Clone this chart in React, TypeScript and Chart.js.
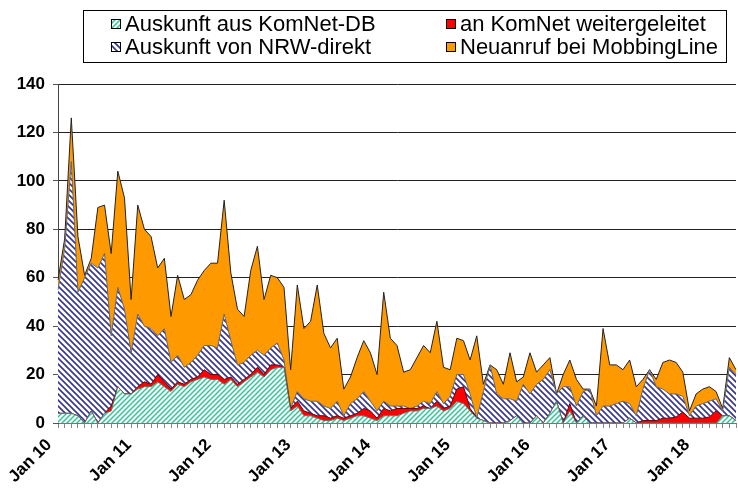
import React, { useEffect, useRef } from 'react';
import { Chart, registerables } from 'chart.js';

Chart.register(...registerables);

// ---- data ----
const monthNames = ['Jan', 'Feb', 'Mär', 'Apr', 'Mai', 'Jun', 'Jul', 'Aug', 'Sep', 'Okt', 'Nov', 'Dez'];
const years = ['10', '11', '12', '13', '14', '15', '16', '17', '18'];
const monthCount = 103;
const categories = years.flatMap((y) => monthNames.map((m) => `${m} ${y}`)).slice(0, monthCount);

const seriesNames = [
  'Auskunft aus KomNet-DB',
  'an KomNet weitergeleitet',
  'Auskunft von NRW-direkt',
  'Neuanruf bei MobbingLine',
];

const komnetDB = [
  4, 4, 4, 3, 0, 5, 0, 4, 5, 15,
  12, 12, 14, 15, 15, 17, 15, 13, 16, 15,
  17, 18, 19, 18, 18, 16, 18, 15, 17, 19,
  21, 19, 22, 23, 23, 5, 7, 3, 3, 2,
  1, 1, 2, 1, 2, 3, 3, 2, 1, 3,
  3, 3, 4, 5, 5, 6, 6, 7, 5, 6,
  9, 8, 5, 2, 1, 0, 0, 0, 1, 3,
  0, 0, 3, 0, 4, 9, 0, 5, 0, 3,
  0, 0, 0, 0, 0, 0, 2, 0, 0, 0,
  0, 0, 0, 0, 0, 0, 0, 0, 0, 0,
  3, 3, 1,
];

const weitergeleitet = [
  0, 0, 0, 0, 0, 0, 0, 0, 2, 0,
  0, 0, 1, 2, 1, 3, 2, 1, 1, 1,
  1, 1, 3, 2, 2, 2, 1, 1, 1, 1,
  2, 1, 2, 1, 0, 1, 2, 2, 1, 1,
  2, 1, 1, 1, 1, 1, 3, 3, 1, 3,
  2, 3, 2, 1, 1, 1, 0, 2, 1, 1,
  5, 7, 1, 0, 0, 0, 0, 0, 0, 0,
  0, 0, 0, 0, 0, 0, 0, 3, 0, 0,
  0, 0, 0, 0, 0, 0, 0, 0, 1, 1,
  1, 2, 2, 2.5, 4.5, 2, 2, 2, 2.5, 5,
  0, 0, 0,
];

const nrwDirekt = [
  51, 68, 104, 51, 60, 61, 64, 66, 29, 41,
  35, 17, 30, 23, 23, 16, 22, 11, 11, 7,
  7, 9, 10, 12, 11, 27, 15, 8, 7, 8,
  7, 8, 7, 9, 3, 0, 4, 5, 5, 6,
  4, 4, 6, 1, 5, 6, 7, 4, 3, 3,
  2, 1, 1, 0, 1, 2, 2, 4, 2, 4,
  6, 5, 6, 0, 12, 24, 12, 10, 9, 6,
  16, 12, 13, 18, 18, 3, 15, 7, 7, 10,
  14, 3, 7, 7, 8, 9, 6, 3, 13, 21,
  14, 12, 10, 9.5, 6.5, 1, 5, 6, 6.5, 5,
  2, 20, 19,
];

const neuanruf = [
  4, 4, 18, 23, 1, 2, 25, 20, 34, 48,
  46, 22, 45, 40, 38, 28, 29, 19, 33, 28,
  28, 31, 31, 34, 35, 47, 28, 23, 19, 35,
  43, 23, 30, 27, 30, 16, 44, 29, 33, 48,
  30, 25, 26, 11, 11, 17, 21, 20, 15, 45,
  28, 25, 14, 16, 20, 23, 21, 29, 15, 11,
  15, 14, 14, 34, 3, 0, 10, 6, 19, 8,
  3, 17, 5, 6, 5, 0, 5, 11, 11, 1,
  0, 4, 32, 17, 16, 13, 18, 12, 4, 0,
  3, 11, 14, 13, 10, 2, 5, 6, 6, 3,
  1, 4, 2,
];

const yTicks = [0, 20, 40, 60, 80, 100, 120, 140];

const FONT = 'Arial, "Liberation Sans", sans-serif';

function makeHatch(
  target: CanvasRenderingContext2D,
  color: string,
  p: number,
  dir: '/' | '\\',
  lw: number
): CanvasPattern | string {
  const c = document.createElement('canvas');
  c.width = p;
  c.height = p;
  const ctx = c.getContext('2d');
  if (!ctx) return color;
  ctx.fillStyle = '#ffffff';
  ctx.fillRect(0, 0, p, p);
  ctx.strokeStyle = color;
  ctx.lineWidth = lw;
  ctx.beginPath();
  if (dir === '/') {
    ctx.moveTo(-1, p + 1);
    ctx.lineTo(p + 1, -1);
    ctx.moveTo(-1, 1);
    ctx.lineTo(1, -1);
    ctx.moveTo(p - 1, p + 1);
    ctx.lineTo(p + 1, p - 1);
  } else {
    ctx.moveTo(-1, -1);
    ctx.lineTo(p + 1, p + 1);
    ctx.moveTo(p - 1, -1);
    ctx.lineTo(p + 1, 1);
    ctx.moveTo(-1, p - 1);
    ctx.lineTo(1, p + 1);
  }
  ctx.stroke();
  return target.createPattern(c, 'repeat') || color;
}

export default function App() {
  const ref = useRef<HTMLCanvasElement | null>(null);

  useEffect(() => {
    document.body.style.margin = '0';
    const canvas = ref.current;
    if (!canvas) return;
    const ctx = canvas.getContext('2d');
    if (!ctx) return;

    const greenPat = makeHatch(ctx, '#2fc794', 5, '/', 1.5);
    const bluePat = makeHatch(ctx, '#353595', 6, '\\', 1.6);
    const fills = [greenPat, '#ff0000', bluePat, '#ff9900'];

    const legendPlugin = {
      id: 'customLegend',
      afterDraw(chart: any) {
        const c: CanvasRenderingContext2D = chart.ctx;
        c.save();
        c.strokeStyle = '#000';
        c.lineWidth = 1;
        c.strokeRect(83.5, 10.5, 643, 52);
        const items = [
          { idx: 0, x: 111, y: 24 },
          { idx: 1, x: 446, y: 24 },
          { idx: 2, x: 111, y: 47 },
          { idx: 3, x: 446, y: 47 },
        ];
        c.font = `22px ${FONT}`;
        c.textBaseline = 'middle';
        c.textAlign = 'left';
        for (const it of items) {
          c.fillStyle = fills[it.idx] as any;
          c.fillRect(it.x, it.y - 5, 10, 10);
          c.strokeStyle = '#000';
          c.strokeRect(it.x + 0.5, it.y - 4.5, 9, 9);
          c.fillStyle = '#000';
          c.fillText(seriesNames[it.idx], it.x + 14, it.y + 1);
        }
        c.restore();
      },
    };

    const data = [komnetDB, weitergeleitet, nrwDirekt, neuanruf];
    const borders = ['#666666', '#660000', '#666666', '#222222'];

    const chart = new Chart(canvas, {
      type: 'line',
      data: {
        labels: categories,
        datasets: data.map((d, i) => ({
          label: seriesNames[i],
          data: d,
          backgroundColor: fills[i] as any,
          borderColor: borders[i],
          borderWidth: 1,
          pointRadius: 0,
          tension: 0,
          fill: i === 0 ? 'origin' : '-1',
        })),
      },
      options: {
        responsive: false,
        animation: false,
        layout: { padding: { top: 84, right: 2, left: 0, bottom: 0 } },
        plugins: {
          legend: { display: false },
          tooltip: { enabled: false },
          title: { display: false },
        },
        scales: {
          x: {
            type: 'category',
            offset: false,
            grid: {
              drawOnChartArea: false,
              drawTicks: true,
              tickLength: 5,
              color: '#888888',
            },
            border: { color: '#777777', width: 1 },
            ticks: {
              autoSkip: false,
              minRotation: 45,
              maxRotation: 45,
              labelOffset: -9,
              padding: 7,
              color: '#000',
              font: { family: FONT, size: 17, weight: 'bold' },
              callback: (_v: any, i: number) => (i % 12 === 0 ? categories[i] : ''),
            },
            afterFit: (s: any) => {
              s.height = 70;
              s.paddingLeft = 0;
              s.paddingRight = 0;
            },
          },
          y: {
            stacked: true,
            min: 0,
            max: 140,
            afterBuildTicks: (s: any) => {
              s.ticks = yTicks.map((v) => ({ value: v }));
            },
            grid: {
              color: '#222222',
              lineWidth: 1,
              tickLength: 5,
              tickColor: '#555555',
            },
            border: { color: '#444444', width: 1 },
            ticks: {
              padding: 8,
              color: '#000',
              font: { family: FONT, size: 17, weight: 'bold' },
            },
            afterFit: (s: any) => {
              s.width = 58;
            },
          },
        },
      },
      plugins: [legendPlugin],
    });

    return () => chart.destroy();
  }, []);

  return (
    <canvas
      ref={ref}
      width={738}
      height={493}
      style={{ display: 'block', width: 738, height: 493, background: '#fff' }}
    />
  );
}
